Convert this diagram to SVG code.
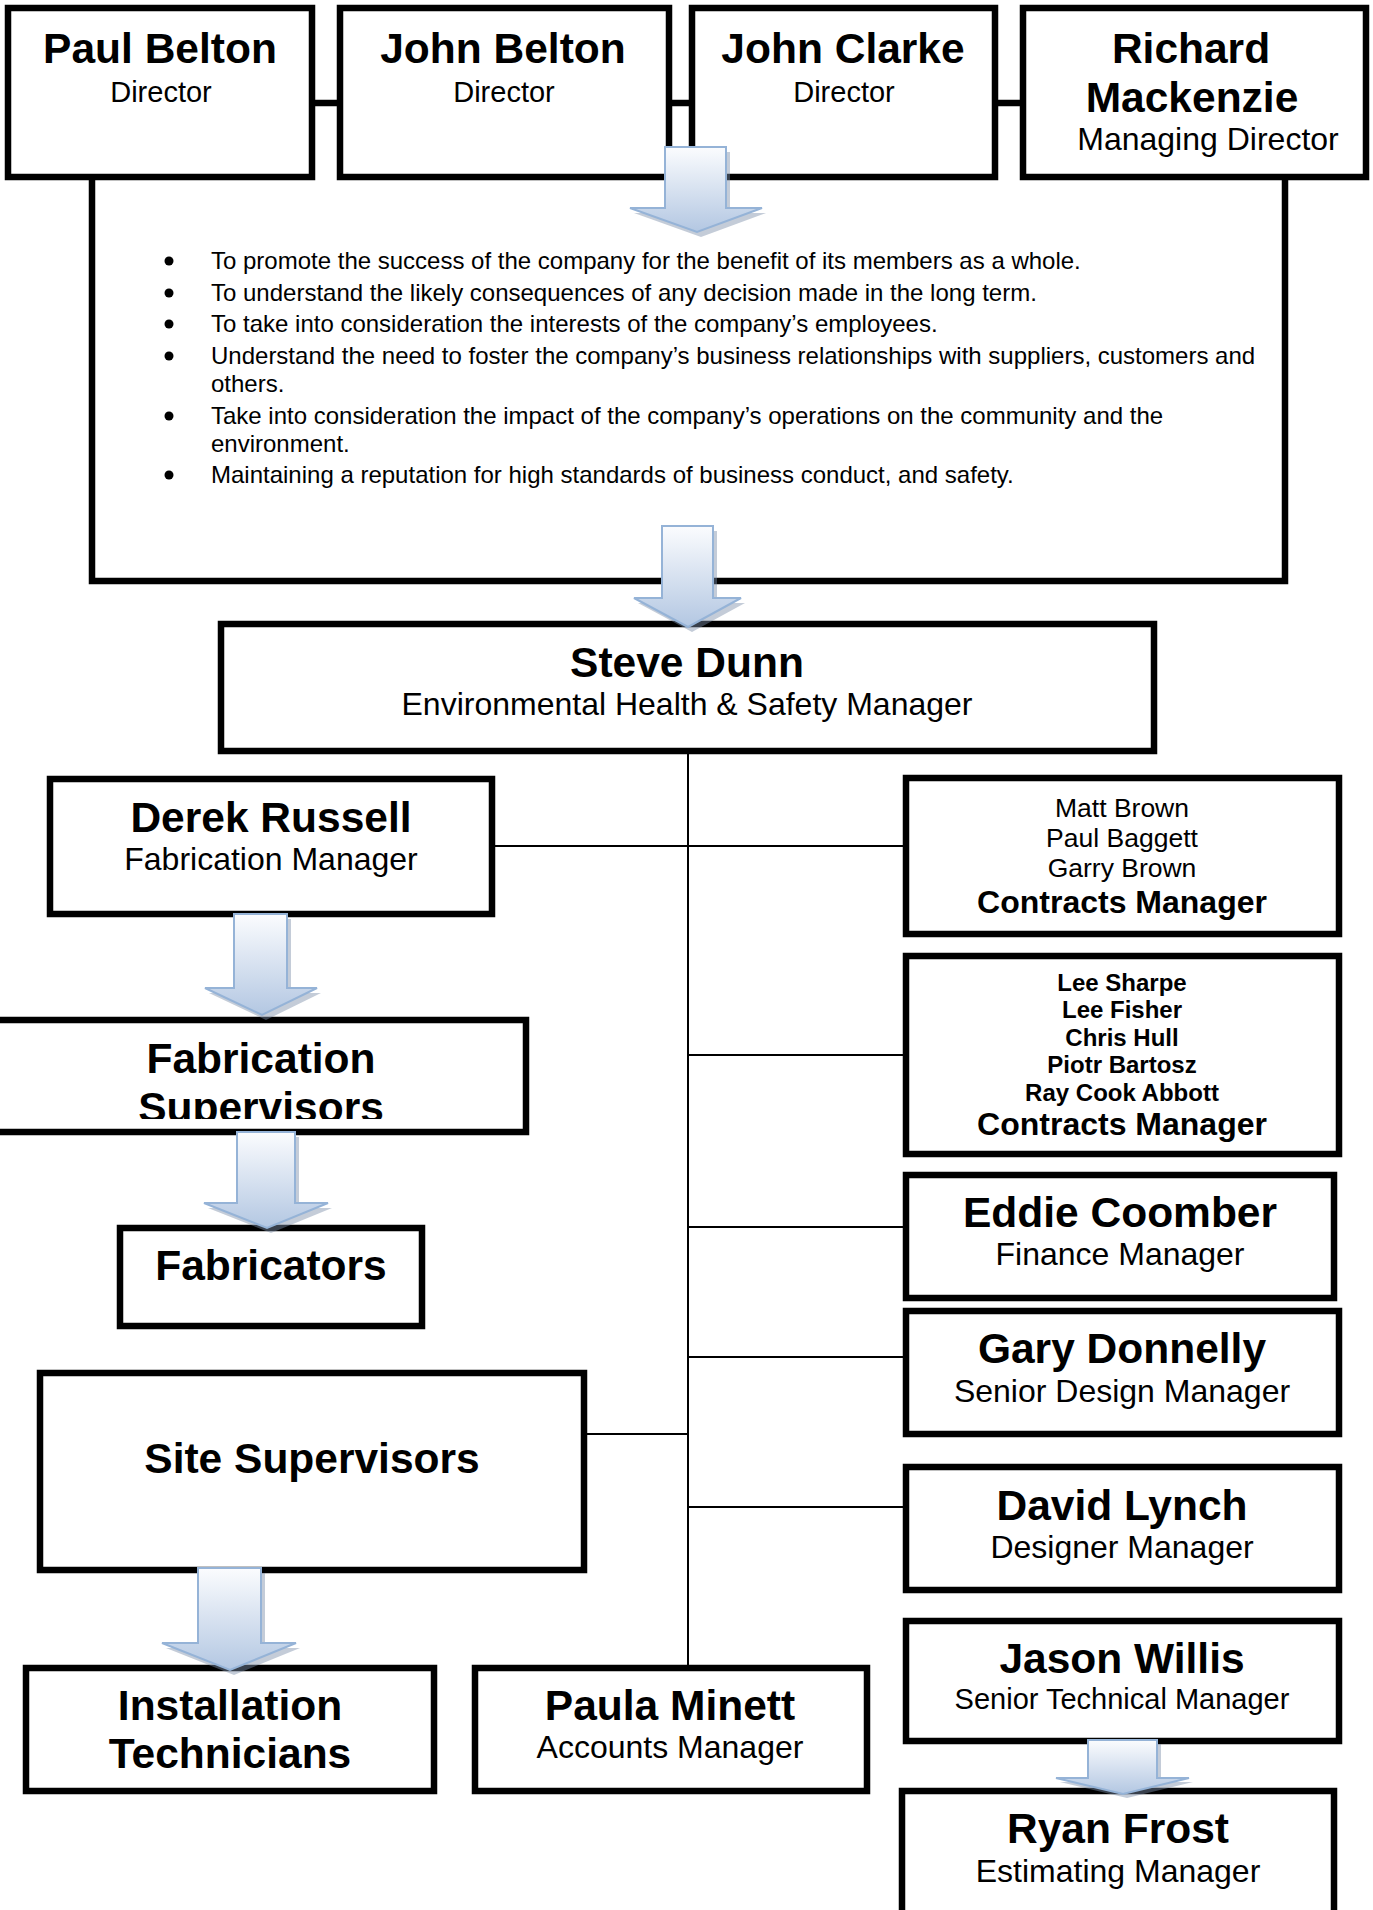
<svg xmlns="http://www.w3.org/2000/svg" width="1373" height="1910" viewBox="0 0 1373 1910">
<defs>
<linearGradient id="ag" x1="0" y1="0" x2="0" y2="1">
<stop offset="0" stop-color="#fbfcfe"/>
<stop offset="1" stop-color="#b3c7e2"/>
</linearGradient>
<clipPath id="fsclip"><rect x="0" y="1020" width="530" height="99"/></clipPath>
<style>
.box{fill:#fff;stroke:#000;stroke-width:6.5}
.thick{fill:none;stroke:#000;stroke-width:6.5}
.thin{fill:none;stroke:#000;stroke-width:2}
text{font-family:"Liberation Sans",Arial,sans-serif;fill:#000;text-anchor:middle}
.name{font-size:42.5px;font-weight:bold}
.title{font-size:32px}
.dir{font-size:29px}
.bul{font-size:24px;text-anchor:start}
.dot{fill:#000}
.sm{font-size:26.5px}
.smb{font-size:24px;font-weight:bold}
.cm{font-size:32px;font-weight:bold}
.arrow{fill:url(#ag);stroke:#95b3d7;stroke-width:2}
.shadow{fill:#7d8ea8;opacity:0.45}
</style>
</defs>
<rect width="1373" height="1910" fill="#fff"/>

<g id="nodes">
<g id="paul-belton">
<rect class="box" x="8" y="8" width="304" height="169"/>
<text class="name" x="160" y="63">Paul Belton</text>
<text class="dir" x="161" y="102">Director</text>
</g>
<g id="john-belton">
<rect class="box" x="340" y="8" width="329" height="169"/>
<text class="name" x="503" y="63">John Belton</text>
<text class="dir" x="504" y="102">Director</text>
</g>
<g id="john-clarke">
<rect class="box" x="692" y="8" width="303" height="169"/>
<text class="name" x="843" y="63">John Clarke</text>
<text class="dir" x="844" y="102">Director</text>
</g>
<g id="richard-mackenzie">
<rect class="box" x="1023" y="8" width="343" height="169"/>
<text class="name" x="1191" y="63">Richard</text>
<text class="name" x="1192" y="112">Mackenzie</text>
<text class="title" x="1208" y="150">Managing Director</text>
</g>
<g id="duties">
<path class="thick" d="M92,180 V581 H1285 V180"/>
<circle class="dot" cx="169" cy="261" r="4.5"/>
<text class="bul" x="211" y="269">To promote the success of the company for the benefit of its members as a whole.</text>
<circle class="dot" cx="169" cy="293" r="4.5"/>
<text class="bul" x="211" y="301">To understand the likely consequences of any decision made in the long term.</text>
<circle class="dot" cx="169" cy="324" r="4.5"/>
<text class="bul" x="211" y="332">To take into consideration the interests of the company’s employees.</text>
<circle class="dot" cx="169" cy="356" r="4.5"/>
<text class="bul" x="211" y="364">Understand the need to foster the company’s business relationships with suppliers, customers and</text>
<text class="bul" x="211" y="392">others.</text>
<circle class="dot" cx="169" cy="416" r="4.5"/>
<text class="bul" x="211" y="424">Take into consideration the impact of the company’s operations on the community and the</text>
<text class="bul" x="211" y="452">environment.</text>
<circle class="dot" cx="169" cy="475" r="4.5"/>
<text class="bul" x="211" y="483">Maintaining a reputation for high standards of business conduct, and safety.</text>
</g>
<g id="steve-dunn">
<rect class="box" x="221" y="624" width="933" height="127"/>
<text class="name" x="687" y="677">Steve Dunn</text>
<text class="title" x="687" y="715">Environmental Health &amp; Safety Manager</text>
</g>
<g id="derek-russell">
<rect class="box" x="50" y="779" width="442" height="135"/>
<text class="name" x="271" y="832">Derek Russell</text>
<text class="title" x="271" y="870">Fabrication Manager</text>
</g>
<g id="fabrication-supervisors">
<rect class="box" x="-20" y="1020" width="546" height="112"/>
<text class="name" x="261" y="1073">Fabrication</text>
<text class="name" x="261" y="1122" clip-path="url(#fsclip)">Supervisors</text>
</g>
<g id="fabricators">
<rect class="box" x="120" y="1228" width="302" height="98"/>
<text class="name" x="271" y="1280">Fabricators</text>
</g>
<g id="site-supervisors">
<rect class="box" x="40" y="1373" width="544" height="197"/>
<text class="name" x="312" y="1473">Site Supervisors</text>
</g>
<g id="installation-technicians">
<rect class="box" x="26" y="1668" width="408" height="123"/>
<text class="name" x="230" y="1720">Installation</text>
<text class="name" x="230" y="1768">Technicians</text>
</g>
<g id="paula-minett">
<rect class="box" x="475" y="1668" width="392" height="123"/>
<text class="name" x="670" y="1720">Paula Minett</text>
<text class="title" x="670" y="1758">Accounts Manager</text>
</g>
<g id="contracts-1">
<rect class="box" x="906" y="778" width="433" height="156"/>
<text class="sm" x="1122" y="817">Matt Brown</text>
<text class="sm" x="1122" y="847">Paul Baggett</text>
<text class="sm" x="1122" y="877">Garry Brown</text>
<text class="cm" x="1122" y="913">Contracts Manager</text>
</g>
<g id="contracts-2">
<rect class="box" x="906" y="956" width="433" height="198"/>
<text class="smb" x="1122" y="991">Lee Sharpe</text>
<text class="smb" x="1122" y="1018">Lee Fisher</text>
<text class="smb" x="1122" y="1046">Chris Hull</text>
<text class="smb" x="1122" y="1073">Piotr Bartosz</text>
<text class="smb" x="1122" y="1101">Ray Cook Abbott</text>
<text class="cm" x="1122" y="1135">Contracts Manager</text>
</g>
<g id="eddie-coomber">
<rect class="box" x="906" y="1175" width="428" height="123"/>
<text class="name" x="1120" y="1227">Eddie Coomber</text>
<text class="title" x="1120" y="1265">Finance Manager</text>
</g>
<g id="gary-donnelly">
<rect class="box" x="906" y="1311" width="433" height="123"/>
<text class="name" x="1122" y="1363">Gary Donnelly</text>
<text class="title" x="1122" y="1402">Senior Design Manager</text>
</g>
<g id="david-lynch">
<rect class="box" x="906" y="1467" width="433" height="123"/>
<text class="name" x="1122" y="1520">David Lynch</text>
<text class="title" x="1122" y="1558">Designer Manager</text>
</g>
<g id="jason-willis">
<rect class="box" x="906" y="1621" width="433" height="120"/>
<text class="name" x="1122" y="1673">Jason Willis</text>
<text class="dir" x="1122" y="1709">Senior Technical Manager</text>
</g>
<g id="ryan-frost">
<rect class="box" x="902" y="1791" width="432" height="150"/>
<text class="name" x="1118" y="1843">Ryan Frost</text>
<text class="title" x="1118" y="1882">Estimating Manager</text>
</g>
</g>

<g id="connectors">
<line class="thick" x1="315" y1="103" x2="337" y2="103"/>
<line class="thick" x1="672" y1="103" x2="689" y2="103"/>
<line class="thick" x1="998" y1="103" x2="1020" y2="103"/>
<line class="thin" x1="688" y1="754" x2="688" y2="1665"/>
<line class="thin" x1="495" y1="846" x2="903" y2="846"/>
<line class="thin" x1="688" y1="1055" x2="903" y2="1055"/>
<line class="thin" x1="688" y1="1227" x2="903" y2="1227"/>
<line class="thin" x1="688" y1="1357" x2="903" y2="1357"/>
<line class="thin" x1="587" y1="1434" x2="688" y2="1434"/>
<line class="thin" x1="688" y1="1507" x2="903" y2="1507"/>

<g id="arrow-board-to-duties">
<polygon class="shadow" transform="translate(4,5)" points="665,147 726,147 726,208 762,208 697,232 630,208 665,208"/>
<polygon class="arrow" points="665,147 726,147 726,208 762,208 697,232 630,208 665,208"/>
</g>
<g id="arrow-duties-to-steve">
<polygon class="shadow" transform="translate(4,5)" points="662,526 713,526 713,598 741,598 688,627 634,598 662,598"/>
<polygon class="arrow" points="662,526 713,526 713,598 741,598 688,627 634,598 662,598"/>
</g>
<g id="arrow-derek-to-fabsup">
<polygon class="shadow" transform="translate(4,5)" points="234,914 287,914 287,988 317,988 262,1015 205,988 234,988"/>
<polygon class="arrow" points="234,914 287,914 287,988 317,988 262,1015 205,988 234,988"/>
</g>
<g id="arrow-fabsup-to-fabricators">
<polygon class="shadow" transform="translate(4,5)" points="237,1132 295,1132 295,1203 328,1203 267,1228 204,1203 237,1203"/>
<polygon class="arrow" points="237,1132 295,1132 295,1203 328,1203 267,1228 204,1203 237,1203"/>
</g>
<g id="arrow-site-to-installation">
<polygon class="shadow" transform="translate(4,5)" points="198,1568 261,1568 261,1643 296,1643 230,1670 162,1643 198,1643"/>
<polygon class="arrow" points="198,1568 261,1568 261,1643 296,1643 230,1670 162,1643 198,1643"/>
</g>
<g id="arrow-jason-to-ryan">
<polygon class="shadow" transform="translate(4,4)" points="1088,1740 1157,1740 1157,1778 1189,1778 1123,1794 1056,1778 1088,1778"/>
<polygon class="arrow" points="1088,1740 1157,1740 1157,1778 1189,1778 1123,1794 1056,1778 1088,1778"/>
</g>
</g>
</svg>
